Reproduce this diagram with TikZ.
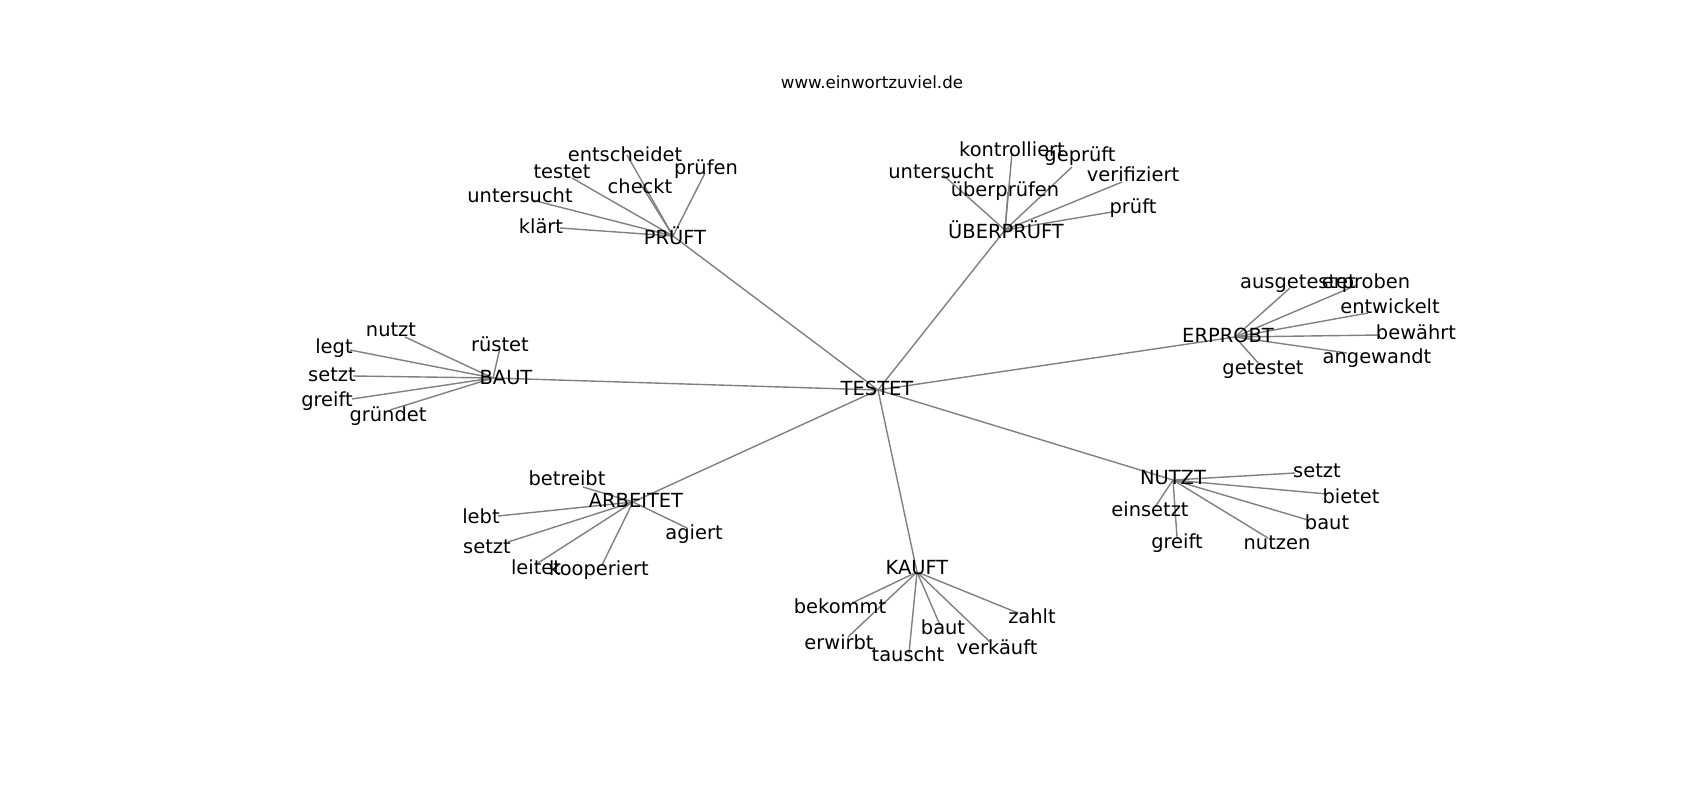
\documentclass[tikz,border=0pt]{standalone}
\usepackage{fontspec}
\setmainfont{DejaVu Sans}
\begin{document}
\begin{tikzpicture}[x=1pt,y=-1pt,
  lbl/.style={inner sep=0pt,anchor=center,yshift=-3pt,text height=0.72em,text depth=0pt,font=\fontsize{19.44}{23}\selectfont,text=black},
  ttl/.style={inner sep=0pt,anchor=center,yshift=-3pt,text height=0.72em,text depth=0pt,font=\fontsize{16.67}{20}\selectfont,text=black},
  edge/.style={draw=gray,line width=1.4pt}]
\fill[white] (0,0) rectangle (1700,800);
\useasboundingbox (0,0) rectangle (1700,800);
% vertex positions
\coordinate (pT) at (878,390);
\coordinate (pP) at (673,236);
\coordinate (pU) at (1005,230);
\coordinate (pE) at (1235,337);
\coordinate (pB) at (493,378);
\coordinate (pA) at (633,502);
\coordinate (pK) at (917,572);
\coordinate (pN) at (1173,480);
% PRUEFT children
\coordinate (pP1) at (627,155);
\coordinate (pP2) at (705,173);
\coordinate (pP3) at (572,178);
\coordinate (pP4) at (640,183);
\coordinate (pP5) at (532,200);
\coordinate (pP6) at (560,228);
% UEBERPRUEFT children
\coordinate (pU1) at (1012,153);
\coordinate (pU2) at (1072,167);
\coordinate (pU3) at (943,175);
\coordinate (pU4) at (1008,192);
\coordinate (pU5) at (1122,182);
\coordinate (pU6) at (1112,212);
% ERPROBT children
\coordinate (pE1) at (1290,288);
\coordinate (pE2) at (1357,285);
\coordinate (pE3) at (1368,313);
\coordinate (pE4) at (1380,335);
\coordinate (pE5) at (1347,353);
\coordinate (pE6) at (1260,365);
% BAUT children
\coordinate (pB1) at (405,337);
\coordinate (pB2) at (350,350);
\coordinate (pB3) at (500,348);
\coordinate (pB4) at (353,376);
\coordinate (pB5) at (352,399);
\coordinate (pB6) at (390,410);
% ARBEITET children
\coordinate (pA1) at (583,487);
\coordinate (pA2) at (498,516);
\coordinate (pA3) at (508,542);
\coordinate (pA4) at (538,563);
\coordinate (pA5) at (602,565);
\coordinate (pA6) at (687,528);
% KAUFT children
\coordinate (pK1) at (852,603);
\coordinate (pK2) at (848,637);
\coordinate (pK3) at (909,653);
\coordinate (pK4) at (940,625);
\coordinate (pK5) at (990,642);
\coordinate (pK6) at (1018,613);
% NUTZT children
\coordinate (pN1) at (1295,473);
\coordinate (pN2) at (1327,494);
\coordinate (pN3) at (1308,520);
\coordinate (pN4) at (1268,538);
\coordinate (pN5) at (1155,507);
\coordinate (pN6) at (1177,537);
% edges
\foreach \h in {P,U,E,B,A,K,N} {\draw[edge] (pT) -- (p\h);}
\foreach \h in {P,U,E,B,A,K,N} {\foreach \i in {1,...,6} {\draw[edge] (p\h) -- (p\h\i);}}
% labels
\node[ttl] (title) at (872,82) {www.einwortzuviel.de};
\node[lbl] (lT) at (877,389) {TESTET};
\node[lbl] (lP) at (675,238) {PRÜFT};
\node[lbl] (lU) at (1006,232) {ÜBERPRÜFT};
\node[lbl] (lE) at (1228,336) {ERPROBT};
\node[lbl] (lB) at (506,378) {BAUT};
\node[lbl] (lA) at (636,501) {ARBEITET};
\node[lbl] (lK) at (917,568) {KAUFT};
\node[lbl] (lN) at (1173,478) {NUTZT};
\node[lbl] (lP1) at (625,155) {entscheidet};
\node[lbl] (lP2) at (706,168) {prüfen};
\node[lbl] (lP3) at (562,172) {testet};
\node[lbl] (lP4) at (640,187) {checkt};
\node[lbl] (lP5) at (520,196) {untersucht};
\node[lbl] (lP6) at (541,227) {klärt};
\node[lbl] (lU1) at (1012,150) {kontrolliert};
\node[lbl] (lU2) at (1080,155) {geprüft};
\node[lbl] (lU3) at (941,172) {untersucht};
\node[lbl] (lU4) at (1005,190) {überprüfen};
\node[lbl] (lU5) at (1133,175) {verifiziert};
\node[lbl] (lU6) at (1133,207) {prüft};
\node[lbl] (lE1) at (1298,282) {ausgetestet};
\node[lbl] (lE2) at (1366,282) {erproben};
\node[lbl] (lE3) at (1390,307) {entwickelt};
\node[lbl] (lE4) at (1416,333) {bewährt};
\node[lbl] (lE5) at (1377,357) {angewandt};
\node[lbl] (lE6) at (1263,368) {getestet};
\node[lbl] (lB1) at (391,330) {nutzt};
\node[lbl] (lB2) at (334,347) {legt};
\node[lbl] (lB3) at (500,345) {rüstet};
\node[lbl] (lB4) at (332,375) {setzt};
\node[lbl] (lB5) at (327,400) {greift};
\node[lbl] (lB6) at (388,415) {gründet};
\node[lbl] (lA1) at (567,479) {betreibt};
\node[lbl] (lA2) at (481,517) {lebt};
\node[lbl] (lA3) at (487,547) {setzt};
\node[lbl] (lA4) at (536,568) {leitet};
\node[lbl] (lA5) at (599,569) {kooperiert};
\node[lbl] (lA6) at (694,533) {agiert};
\node[lbl] (lK1) at (840,607) {bekommt};
\node[lbl] (lK2) at (839,643) {erwirbt};
\node[lbl] (lK3) at (908,655) {tauscht};
\node[lbl] (lK4) at (943,628) {baut};
\node[lbl] (lK5) at (997,648) {verkäuft};
\node[lbl] (lK6) at (1032,617) {zahlt};
\node[lbl] (lN1) at (1317,471) {setzt};
\node[lbl] (lN2) at (1351,497) {bietet};
\node[lbl] (lN3) at (1327,523) {baut};
\node[lbl] (lN4) at (1277,543) {nutzen};
\node[lbl] (lN5) at (1150,510) {einsetzt};
\node[lbl] (lN6) at (1177,542) {greift};
\end{tikzpicture}
\end{document}
